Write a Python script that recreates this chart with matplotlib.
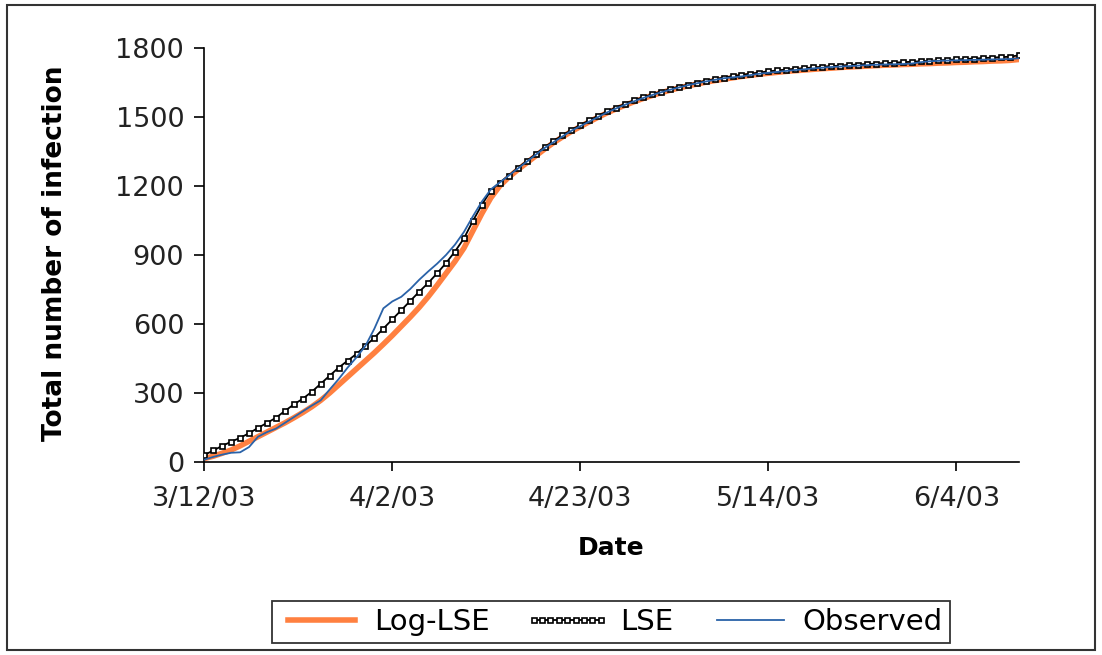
import matplotlib
matplotlib.use("Agg")
import matplotlib.pyplot as plt
import matplotlib.dates as mdates
from matplotlib.patches import Rectangle
import datetime as dt

# Days since 3/12/03 (one value per day, 3/12/03 .. 6/11/03)
start_date = dt.date(2003, 3, 12)
days = list(range(92))

log_lse = [15, 25, 38, 52, 70, 90, 110, 130, 150, 170,
           192, 215, 240, 268, 300, 335, 370, 405, 440, 475,
           512, 550, 590, 630, 672, 718, 768, 820, 872, 930,
           1005, 1080, 1148, 1200, 1238, 1270, 1300, 1330, 1360, 1388,
           1413, 1437, 1458, 1479, 1499, 1518, 1535, 1551, 1566, 1580,
           1593, 1605, 1616, 1626, 1635, 1643, 1651, 1658, 1664, 1670,
           1676, 1681, 1686, 1690, 1694, 1698, 1701, 1704, 1707, 1710,
           1712, 1715, 1717, 1719, 1721, 1723, 1725, 1726, 1728, 1729,
           1731, 1732, 1734, 1735, 1737, 1738, 1740, 1741, 1743, 1744,
           1746, 1750]

lse = [30, 50, 70, 88, 105, 125, 148, 170, 192, 222,
       250, 275, 305, 340, 375, 410, 440, 470, 505, 540,
       580, 620, 660, 700, 740, 778, 820, 865, 915, 972,
       1048, 1118, 1180, 1215, 1245, 1278, 1308, 1338, 1368, 1395,
       1420, 1443, 1465, 1485, 1505, 1524, 1541, 1557, 1572, 1586,
       1598, 1610, 1621, 1631, 1640, 1649, 1657, 1664, 1671, 1677,
       1683, 1688, 1693, 1698, 1702, 1706, 1709, 1712, 1715, 1718,
       1721, 1723, 1726, 1728, 1730, 1732, 1734, 1736, 1738, 1740,
       1742, 1744, 1746, 1748, 1750, 1752, 1754, 1756, 1758, 1760,
       1762, 1768]

observed = [10, 22, 32, 40, 42, 65, 110, 130, 145, 170,
            195, 220, 245, 268, 315, 360, 410, 455, 505, 580,
            668, 698, 718, 752, 792, 828, 862, 900, 945, 1000,
            1068, 1132, 1185, 1215, 1245, 1275, 1305, 1335, 1365, 1390,
            1415, 1440, 1460, 1480, 1500, 1520, 1537, 1553, 1568, 1582,
            1595, 1607, 1618, 1628, 1638, 1646, 1654, 1661, 1668, 1672,
            1676, 1682, 1688, 1692, 1696, 1700, 1704, 1707, 1711, 1714,
            1717, 1719, 1721, 1723, 1725, 1727, 1728, 1729, 1730, 1732,
            1738, 1742, 1744, 1745, 1746, 1747, 1748, 1749, 1750, 1751,
            1752, 1755]

dates = [start_date + dt.timedelta(days=d) for d in days]
tick_dates = [start_date + dt.timedelta(days=d) for d in (0, 21, 42, 63, 84)]

plt.rcParams['font.family'] = 'DejaVu Sans'

fig = plt.figure(figsize=(11.02, 6.55), dpi=100)
ax = fig.add_axes([0.1854, 0.2947, 0.7393, 0.6321])

ax.plot(dates, log_lse, color='#ff8040', lw=4, label='Log-LSE', zorder=2)
ax.plot(dates, lse, color='black', lw=1.3, marker='s', ms=3.6,
        mfc='white', mec='black', mew=1.2, label='LSE', zorder=3)
ax.plot(dates, observed, color='#2a62a8', lw=1.3, label='Observed', zorder=4)

ax.set_ylim(0, 1800)
ax.set_yticks([0, 300, 600, 900, 1200, 1500, 1800])
ax.set_xlim(start_date, start_date + dt.timedelta(days=91.4))
ax.set_xticks(tick_dates)
ax.xaxis.set_major_formatter(
    plt.FuncFormatter(lambda v, p: (lambda d: f"{d.month}/{d.day}/{d:%y}")(mdates.num2date(v))))

for s in ['top', 'right']:
    ax.spines[s].set_visible(False)
for s in ['left', 'bottom']:
    ax.spines[s].set_linewidth(1.2)

ax.tick_params(axis='y', direction='out', length=7.5, width=1.2, pad=7,
               labelsize=19.5, labelcolor='#222222')
ax.tick_params(axis='x', direction='out', length=6.5, width=1.2, pad=11,
               labelsize=19.5, labelcolor='#222222')

ax.set_ylabel('Total number of infection', fontsize=19, fontweight='bold')
ax.yaxis.set_label_coords(-0.167, 0.505)
ax.set_xlabel('Date', fontsize=18, fontweight='bold')
ax.xaxis.set_label_coords(0.499, -0.18)

fig.legend(loc='center', bbox_to_anchor=(0.5545, 0.0504), ncol=3,
           fontsize=21, frameon=True, fancybox=False, edgecolor='black',
           handlelength=2.9, handletextpad=0.35, columnspacing=1.2,
           numpoints=9, borderpad=0.25, borderaxespad=0.0)
fig.legends[0].get_frame().set_linewidth(1.3)

fig.patches.append(Rectangle((0.006, 0.008), 0.988, 0.984, transform=fig.transFigure,
                             fill=False, edgecolor='#333333', lw=1.5))

fig.savefig('out.png', dpi=100)
